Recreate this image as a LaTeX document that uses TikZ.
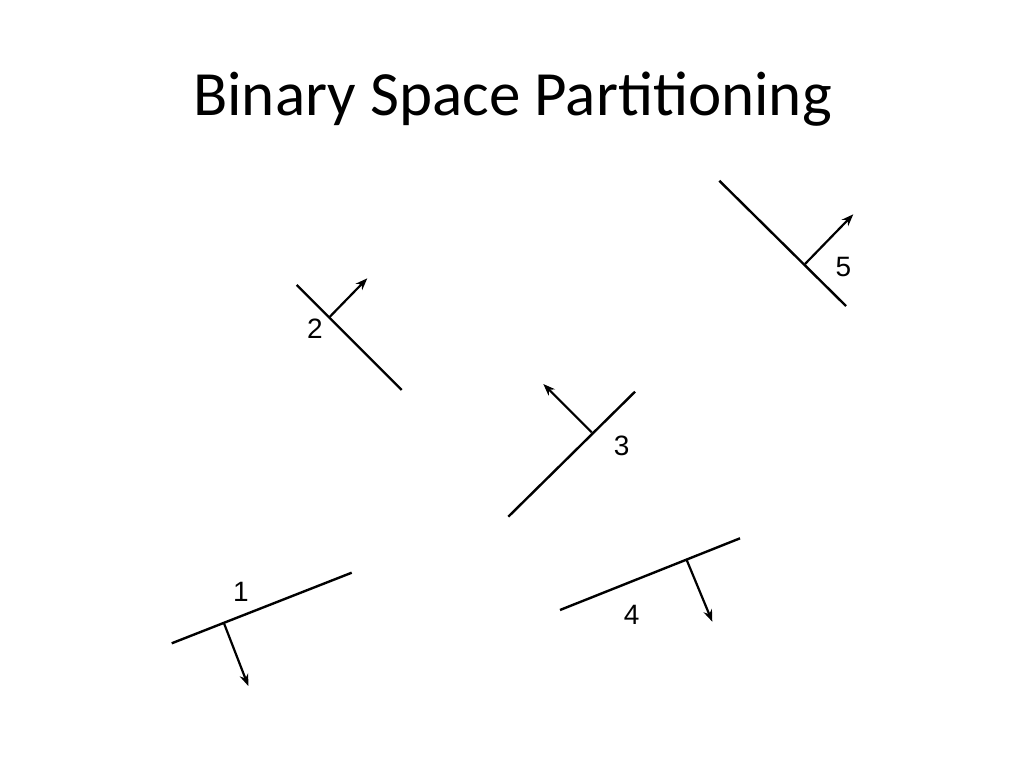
\documentclass[tikz,border=0pt]{standalone}
\usepackage{fontspec}
\setmainfont{Liberation Sans}
\newfontfamily\titlefont{Carlito}
\usetikzlibrary{arrows.meta}
\begin{document}
\begin{tikzpicture}[x=1pt,y=-1pt,
  wall/.style={line width=2.4pt,black},
  normal/.style={line width=2.2pt,black,-{Stealth[length=12pt,width=9pt]}},
  lbl/.style={font=\fontsize{28}{30}\selectfont,inner sep=0pt}]
\useasboundingbox (0,0) rectangle (1024,768);
\node[font=\titlefont\fontsize{63}{70}\selectfont,inner sep=0pt] (title) at (512.5,99) {Binary Space Partitioning};
% segment 1
\coordinate (a1) at (171.7,643.3); \coordinate (b1) at (351.7,572.7);
\coordinate (j1) at (224,623.3); \coordinate (t1) at (248.3,686);
\draw[wall] (a1) -- (b1); \draw[normal] (j1) -- (t1);
\node[lbl] (l1) at (241,591.7) {1};
% segment 2
\coordinate (a2) at (296.7,285); \coordinate (b2) at (401.7,390);
\coordinate (j2) at (329.3,317.3); \coordinate (t2) at (367.3,278.3);
\draw[wall] (a2) -- (b2); \draw[normal] (j2) -- (t2);
\node[lbl] (l2) at (315,328.3) {2};
% segment 3
\coordinate (a3) at (508.3,516.7); \coordinate (b3) at (635,391.7);
\coordinate (j3) at (591.7,432.3); \coordinate (t3) at (543.3,384);
\draw[wall] (a3) -- (b3); \draw[normal] (j3) -- (t3);
\node[lbl] (l3) at (621.7,446) {3};
% segment 4
\coordinate (a4) at (560,610); \coordinate (b4) at (740,538.3);
\coordinate (j4) at (686.7,560); \coordinate (t4) at (712.3,621.7);
\draw[wall] (a4) -- (b4); \draw[normal] (j4) -- (t4);
\node[lbl] (l4) at (631.7,615) {4};
% segment 5
\coordinate (a5) at (719.3,180.7); \coordinate (b5) at (846,306);
\coordinate (j5) at (805,264); \coordinate (t5) at (853.3,214.3);
\draw[wall] (a5) -- (b5); \draw[normal] (j5) -- (t5);
\node[lbl] (l5) at (843.3,266.7) {5};
\end{tikzpicture}
\end{document}
